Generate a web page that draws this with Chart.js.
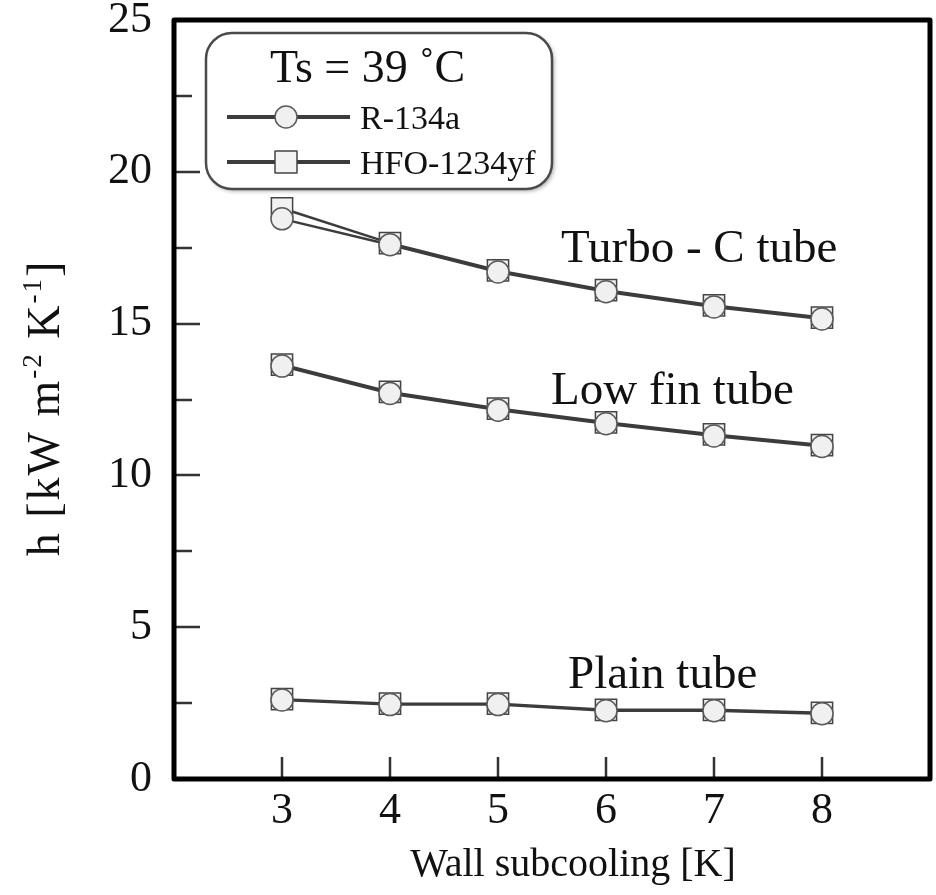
<!DOCTYPE html>
<html>
<head>
<meta charset="utf-8">
<script src="https://cdn.jsdelivr.net/npm/chart.js@4/dist/chart.umd.min.js"></script>
<style>
  html, body { margin: 0; padding: 0; background: #fff; }
  #wrap { width: 936px; height: 895px; }
</style>
</head>
<body>
<div id="wrap"><canvas id="c" width="936" height="895"></canvas></div>
<script>
// Wall subcooling [K]
const subcooling = [3, 4, 5, 6, 7, 8];

// Condensation heat transfer coefficient h [kW m-2 K-1]
const turboR134a   = [18.45, 17.6, 16.7, 16.05, 15.55, 15.15];
const turboHFO     = [18.8, 17.65, 16.75, 16.1, 15.6, 15.2];
const lowFinR134a  = [13.6, 12.7, 12.15, 11.7, 11.3, 10.95];
const lowFinHFO    = [13.65, 12.75, 12.2, 11.75, 11.35, 11.0];
const plainR134a   = [2.6, 2.45, 2.45, 2.25, 2.25, 2.15];
const plainHFO     = [2.63, 2.48, 2.48, 2.28, 2.28, 2.18];

// Axis tick labels
const xTickValues = [3, 4, 5, 6, 7, 8];
const yTickValues = [0, 5, 10, 15, 20, 25];

const SERIF = '"Liberation Serif", "Times New Roman", serif';
const LINE = '#3c3c3c';

function pts(ys) { return subcooling.map((x, i) => ({ x: x, y: ys[i] })); }

function circleSet(label, ys) {
  return {
    label: label, data: pts(ys),
    borderColor: LINE, borderWidth: 2.5,
    pointStyle: 'circle', pointRadius: 11,
    pointBackgroundColor: '#f0f0f0', pointBorderColor: '#5a5a5a', pointBorderWidth: 1.5,
    tension: 0, fill: false
  };
}
function squareSet(label, ys) {
  return {
    label: label, data: pts(ys),
    borderColor: LINE, borderWidth: 2.5,
    pointStyle: 'rect', pointRadius: 15,
    pointBackgroundColor: '#f2f2f2', pointBorderColor: '#444', pointBorderWidth: 1.5,
    tension: 0, fill: false
  };
}

// Frame, inward ticks, curve labels, axis titles and the rounded legend box
const decorations = {
  id: 'decorations',
  afterDraw(chart) {
    const { ctx, chartArea: a, scales } = chart;
    const xs = scales.x, ys = scales.y;
    ctx.save();

    // inward tick marks
    ctx.strokeStyle = '#333';
    ctx.lineWidth = 2.5;
    ctx.beginPath();
    xTickValues.forEach(v => {
      const px = Math.round(xs.getPixelForValue(v));
      ctx.moveTo(px, a.bottom); ctx.lineTo(px, a.bottom - 22);
    });
    for (let v = 2.5; v < 25; v += 2.5) {
      const py = Math.round(ys.getPixelForValue(v));
      const len = (v % 5 === 0) ? 26 : 18;
      ctx.moveTo(a.left, py); ctx.lineTo(a.left + len, py);
    }
    ctx.stroke();

    // plot frame
    ctx.strokeStyle = '#000';
    ctx.lineWidth = 5;
    ctx.lineJoin = 'round';
    ctx.strokeRect(a.left, a.top, a.right - a.left, a.bottom - a.top);

    // curve labels
    ctx.fillStyle = '#111';
    ctx.font = '47px ' + SERIF;
    ctx.textAlign = 'left';
    ctx.textBaseline = 'alphabetic';
    ctx.fillText('Turbo - C tube', 561, 262);
    ctx.fillText('Low fin tube', 551, 404);
    ctx.fillText('Plain tube', 568, 688);

    // x axis title
    ctx.font = '40px ' + SERIF;
    ctx.textAlign = 'center';
    ctx.fillText('Wall subcooling [K]', 573, 876);
    ctx.textAlign = 'left';

    // y axis title with superscripts
    ctx.save();
    ctx.translate(44, 408);
    ctx.rotate(-Math.PI / 2);
    ctx.letterSpacing = '2px';
    const big = '46px ' + SERIF, small = '27px ' + SERIF;
    const parts = [
      ['h [kW m', big, 0], ['-2', small, -18], [' K', big, 0], ['-1', small, -18], [']', big, 0]
    ];
    let total = 0;
    parts.forEach(p => { ctx.font = p[1]; total += ctx.measureText(p[0]).width; });
    let cx = -total / 2;
    parts.forEach(p => {
      ctx.font = p[1];
      ctx.fillText(p[0], cx, 15 + p[2]);
      cx += ctx.measureText(p[0]).width;
    });
    ctx.restore();

    // legend box
    const bx = 206, by = 33, bw = 346, bh = 156, r = 26;
    ctx.save();
    ctx.shadowColor = 'rgba(0,0,0,0.35)';
    ctx.shadowBlur = 4;
    ctx.shadowOffsetX = 2;
    ctx.shadowOffsetY = 2;
    ctx.fillStyle = '#fff';
    ctx.beginPath();
    ctx.roundRect(bx, by, bw, bh, r);
    ctx.fill();
    ctx.restore();
    ctx.strokeStyle = '#4a4a4a';
    ctx.lineWidth = 2.5;
    ctx.beginPath();
    ctx.roundRect(bx, by, bw, bh, r);
    ctx.stroke();

    ctx.fillStyle = '#111';
    ctx.font = '46px ' + SERIF;
    ctx.fillText('Ts = 39 \u02daC', 270, 82);

    const entries = [
      { ds: chart.data.datasets[0], y: 117 },
      { ds: chart.data.datasets[3], y: 162 }
    ];
    entries.forEach(e => {
      const ds = e.ds;
      ctx.strokeStyle = ds.borderColor;
      ctx.lineWidth = 4;
      ctx.beginPath();
      ctx.moveTo(227, e.y); ctx.lineTo(350, e.y);
      ctx.stroke();
      ctx.fillStyle = ds.pointBackgroundColor;
      ctx.strokeStyle = ds.pointBorderColor;
      ctx.lineWidth = ds.pointBorderWidth;
      ctx.beginPath();
      if (ds.pointStyle === 'rect') {
        ctx.rect(286 - 11, e.y - 11, 22, 22);
      } else {
        ctx.arc(286, e.y, 11, 0, Math.PI * 2);
      }
      ctx.fill();
      ctx.stroke();
      ctx.fillStyle = '#111';
      ctx.font = '34px ' + SERIF;
      ctx.fillText(ds.label, 360, e.y + 12);
    });

    ctx.restore();
  }
};

new Chart(document.getElementById('c'), {
  type: 'line',
  data: {
    datasets: [
      circleSet('R-134a', turboR134a),
      circleSet('R-134a', lowFinR134a),
      circleSet('R-134a', plainR134a),
      squareSet('HFO-1234yf', turboHFO),
      squareSet('HFO-1234yf', lowFinHFO),
      squareSet('HFO-1234yf', plainHFO)
    ]
  },
  options: {
    responsive: false,
    animation: false,
    devicePixelRatio: 1,
    layout: { autoPadding: false, padding: { top: 20, right: 6, left: 0, bottom: 0 } },
    plugins: { legend: { display: false }, tooltip: { enabled: false } },
    scales: {
      x: {
        type: 'linear', min: 2, max: 9,
        afterBuildTicks(scale) { scale.ticks = xTickValues.map(v => ({ value: v })); },
        afterFit(scale) { scale.height = 116; scale.paddingLeft = 0; scale.paddingRight = 0; },
        grid: { display: false, drawTicks: false },
        border: { display: false },
        ticks: {
          color: '#111', padding: 6,
          font: { family: SERIF, size: 44 },
          callback: v => String(v)
        }
      },
      y: {
        type: 'linear', min: 0, max: 25,
        afterBuildTicks(scale) { scale.ticks = yTickValues.map(v => ({ value: v })); },
        afterFit(scale) { scale.width = 174; scale.paddingTop = 0; scale.paddingBottom = 0; },
        grid: { display: false, drawTicks: false },
        border: { display: false },
        ticks: {
          color: '#111', padding: 22,
          font: { family: SERIF, size: 44 },
          callback: v => String(v)
        }
      }
    }
  },
  plugins: [decorations]
});
</script>
</body>
</html>
